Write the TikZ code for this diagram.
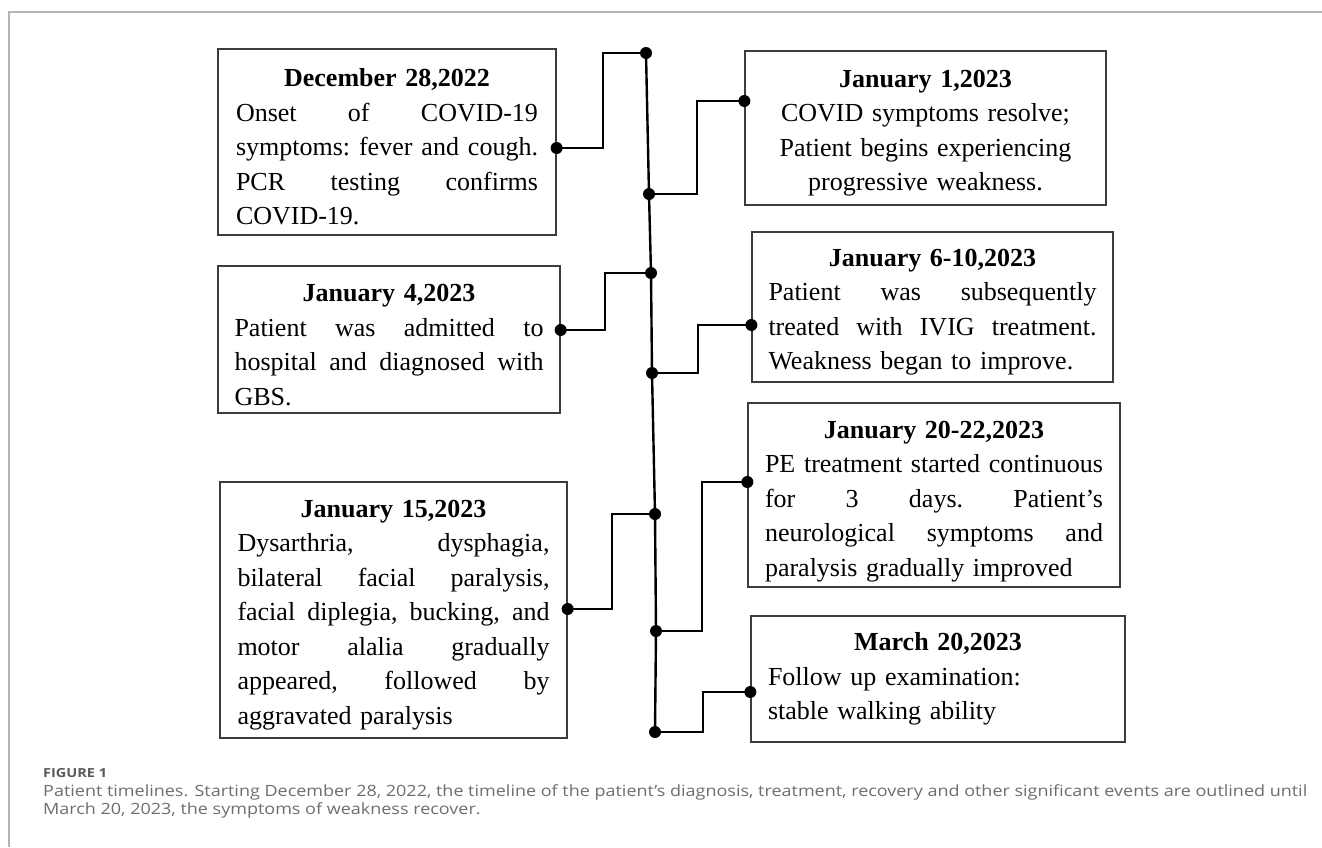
\documentclass[tikz,border=0pt]{standalone}
\usepackage{fontspec}
\setmainfont{Liberation Serif}
\newfontfamily\capfont[FakeStretch=1.16]{Open Sans}
\usetikzlibrary{calc}
\definecolor{boxgray}{HTML}{3C3C3C}
\definecolor{framegray}{HTML}{B4B4B4}
\definecolor{capgray}{HTML}{6D6E71}
\definecolor{figgray}{HTML}{58595B}
\newcommand\jfull[1]{\noindent\hbox to\hsize{\spaceskip=.25em plus 1fil\xspaceskip=.25em plus 1fil\relax #1}}
\newcommand\jleft[1]{\noindent\hbox to\hsize{#1\hfil}}
\newcommand\tstrut[1]{\rule{0pt}{#1}}
\begin{document}
\begin{tikzpicture}[x=1pt,y=-1pt,
  event/.style={draw=boxgray, line width=1.3pt, align=center,
    font=\fontsize{26}{34.5}\selectfont\frenchspacing, inner ysep=4pt},
  conn/.style={line width=2.4pt, black},
  dot/.style={circle, fill=black, inner sep=0pt, minimum size=12pt},
  capline/.style={anchor=base west, inner sep=0pt, text=capgray,
    font=\capfont\fontsize{15.5}{18}\selectfont}]
\useasboundingbox (0,0) rectangle (1322,847);
\fill[white] (0,0) rectangle (1322,847);
% frame
\draw[framegray, line width=1.5pt] (1322,12) -- (9,12) -- (9,847);
% boxes
\node[event, text width=302pt, inner xsep=18pt, minimum height=186pt] (b1) at (387,142)
 {\tstrut{28pt}\textbf{December 28,2022}\\
  \jfull{Onset of COVID-19}\\
  \jfull{symptoms: fever and cough.}\\
  \jfull{PCR testing confirms}\\
  \jleft{COVID-19.}};
\node[event, text width=325pt, inner xsep=18pt, minimum height=154pt] (b2) at (925.5,128)
 {\tstrut{28pt}\textbf{January 1,2023}\\
  COVID symptoms resolve;\\
  Patient begins experiencing\\
  progressive weakness.};
\node[event, text width=309pt, inner xsep=16.5pt, minimum height=147pt] (b3) at (389,339.5)
 {\tstrut{28pt}\textbf{January 4,2023}\\
  \jfull{Patient was admitted to}\\
  \jfull{hospital and diagnosed with}\\
  \jleft{GBS.}};
\node[event, text width=328pt, inner xsep=16.5pt, minimum height=150pt] (b4) at (932.5,307)
 {\tstrut{28pt}\textbf{January 6-10,2023}\\
  \jfull{Patient was subsequently}\\
  \jfull{treated with IVIG treatment.}\\
  \jleft{Weakness began to improve.}};
\node[event, text width=338pt, inner xsep=17pt, minimum height=184pt] (b5) at (934,495)
 {\tstrut{30pt}\textbf{January 20-22,2023}\\
  \jfull{PE treatment started continuous}\\
  \jfull{for 3 days. Patient’s}\\
  \jfull{neurological symptoms and}\\
  \jleft{paralysis gradually improved}};
\node[event, text width=312pt, inner xsep=17.5pt, minimum height=256pt] (b6) at (393.5,610)
 {\tstrut{27pt}\textbf{January 15,2023}\\
  \jfull{Dysarthria, dysphagia,}\\
  \jfull{bilateral facial paralysis,}\\
  \jfull{facial diplegia, bucking, and}\\
  \jfull{motor alalia gradually}\\
  \jfull{appeared, followed by}\\
  \jleft{aggravated paralysis}};
\node[event, text width=340pt, inner xsep=17pt, minimum height=126pt] (b7) at (938,679)
 {\textbf{March 20,2023}\\
  \jleft{Follow up examination:}\\
  \jleft{stable walking ability}};
% spine points
\coordinate (s0) at (646,53);
\coordinate (s1) at (649,194);
\coordinate (s2) at (651,273);
\coordinate (s3) at (652,373);
\coordinate (s4) at (655,514);
\coordinate (s5) at (656,631);
\coordinate (s6) at (655,732);
% box attach points
\coordinate (e1) at (b1.east |- 0,148);
\coordinate (e2) at (b2.west |- 0,101);
\coordinate (e3) at (b3.east |- 0,330);
\coordinate (e4) at (b4.west |- 0,325);
\coordinate (e5) at (b5.west |- 0,482);
\coordinate (e6) at (b6.east |- 0,609);
\coordinate (e7) at (b7.west |- 0,692);
% spine
\draw[conn] (s0) -- (s1) -- (s2) -- (s3) -- (s4) -- (s5) -- (s6);
% connectors
\draw[conn] (s0) -| (603,148) -- (e1);
\draw[conn] (s1) -| (697,101) -- (e2);
\draw[conn] (s2) -| (605,330) -- (e3);
\draw[conn] (s3) -| (698,325) -- (e4);
\draw[conn] (s4) -| (612,609) -- (e6);
\draw[conn] (s5) -| (702,482) -- (e5);
\draw[conn] (s6) -| (703,692) -- (e7);
% dots
\foreach \p in {s0,s1,s2,s3,s4,s5,s6,e1,e2,e3,e4,e5,e6,e7}
  \node[dot] (d\p) at (\p) {};
% caption
\node[anchor=base west, inner sep=0pt, text=figgray,
  font=\capfont\fontsize{12.5}{15}\selectfont\bfseries] (fig) at (43,777) {FIGURE 1};
\node[capline] (cap1) at (43,796) {Patient timelines. Starting December 28, 2022, the timeline of the patient’s diagnosis, treatment, recovery and other significant events are outlined until};
\node[capline] (cap2) at (43,814) {March 20, 2023, the symptoms of weakness recover.};
\end{tikzpicture}
\end{document}
